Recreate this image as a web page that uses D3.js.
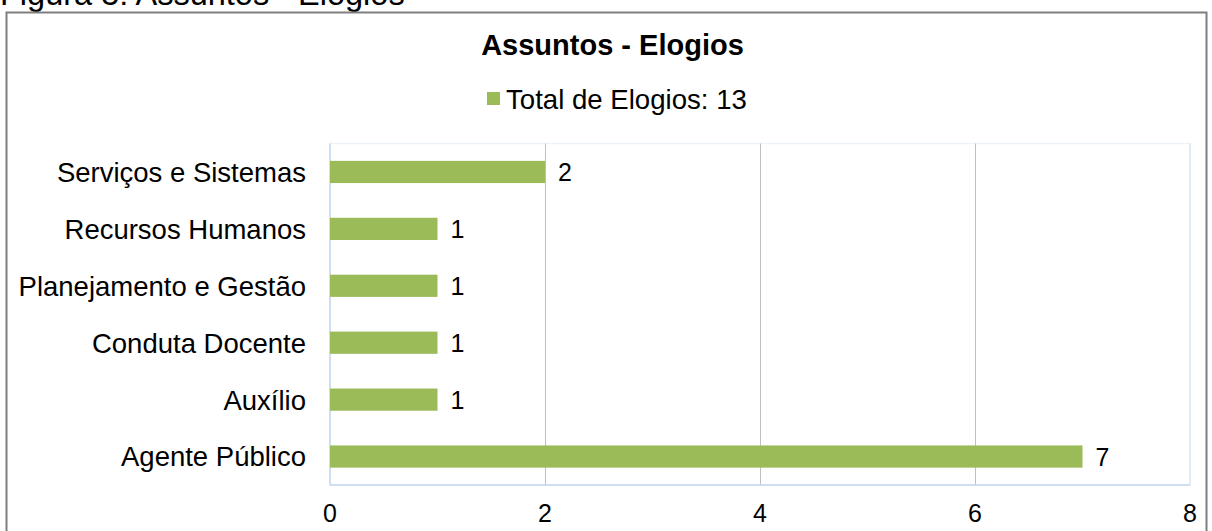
<!DOCTYPE html>
<html><head><meta charset="utf-8">
<script src="https://cdn.jsdelivr.net/npm/d3@7"></script>
<style>
body{margin:0;background:#fff;}
svg{display:block;font-family:"Liberation Sans",Arial,sans-serif;}
</style></head>
<body>
<svg id="c" width="1212" height="531"></svg>
<script>
const categories = ["Serviços e Sistemas","Recursos Humanos","Planejamento e Gestão","Conduta Docente","Auxílio","Agente Público"];
const values = [2,1,1,1,1,7];
const xTicks = [0,2,4,6,8];
const title = "Assuntos - Elogios";
const legendLabel = "Total de Elogios: 13";
const caption = "Figura 5: Assuntos - Elogios";

const svg = d3.select("#c");
const m = {left:330, right:1190, top:143.5, bottom:485};

// caption (clipped at top, as in the reference)
svg.append("text").attr("x",0).attr("y",5).attr("font-size",32.5).attr("fill","#000").text(caption);
// outer frame
svg.append("rect").attr("x",6.5).attr("y",12.5).attr("width",1200).attr("height",530)
  .attr("fill","none").attr("stroke","#7f7f7f").attr("stroke-width",2);

const x = d3.scaleLinear().domain([0,8]).range([m.left,m.right]);
const y = d3.scaleBand().domain(categories).range([m.top,m.bottom]).paddingInner(0.61).paddingOuter(0.305);

// plot border
svg.append("rect").attr("x",m.left).attr("y",m.top).attr("width",m.right-m.left).attr("height",m.bottom-m.top)
  .attr("fill","none").attr("stroke","#eef2f9").attr("stroke-width",1.5);

// gridlines
svg.append("g").selectAll("line").data(xTicks.filter(d=>d>0 && d<8)).join("line")
  .attr("x1",d=>x(d)+0.5).attr("x2",d=>x(d)+0.5).attr("y1",m.top).attr("y2",m.bottom)
  .attr("stroke","#bfbfbf").attr("stroke-width",1);

// axis lines
svg.append("line").attr("x1",m.left).attr("x2",m.left).attr("y1",m.top).attr("y2",m.bottom)
  .attr("stroke","#c5d6ee").attr("stroke-width",1.5);
svg.append("line").attr("x1",m.left).attr("x2",m.right).attr("y1",m.bottom).attr("y2",m.bottom)
  .attr("stroke","#c5d6ee").attr("stroke-width",1.5);
svg.append("line").attr("x1",m.right).attr("x2",m.right).attr("y1",m.top).attr("y2",m.bottom)
  .attr("stroke","#dde6f3").attr("stroke-width",1.5);

// bars
svg.append("g").selectAll("rect").data(values).join("rect")
  .attr("x",x(0)).attr("y",(d,i)=>y(categories[i]))
  .attr("width",d=>x(d)-x(0)).attr("height",y.bandwidth())
  .attr("fill","#9bbb59");

// value labels
svg.append("g").selectAll("text").data(values).join("text")
  .attr("x",d=>x(d)+13).attr("y",(d,i)=>y(categories[i])+y.bandwidth()/2)
  .attr("dy","0.36em").attr("font-size",25).attr("fill","#000").text(d=>d);

// category labels
svg.append("g").selectAll("text").data(categories).join("text")
  .attr("x",306).attr("y",d=>y(d)+y.bandwidth()/2).attr("dy","0.36em")
  .attr("text-anchor","end").attr("font-size",27.5).attr("fill","#000").text(d=>d);

// x tick labels
svg.append("g").selectAll("text").data(xTicks).join("text")
  .attr("x",d=>x(d)).attr("y",513).attr("dy","0.36em").attr("text-anchor","middle")
  .attr("font-size",25).attr("fill","#000").text(d=>d);

// title
svg.append("text").attr("x",612.5).attr("y",45).attr("dy","0.36em").attr("text-anchor","middle")
  .attr("font-size",29).attr("font-weight","bold").attr("fill","#000").text(title);

// legend
svg.append("rect").attr("x",487).attr("y",92).attr("width",13).attr("height",13).attr("fill","#9bbb59");
svg.append("text").attr("x",506).attr("y",99).attr("dy","0.36em").attr("font-size",27.6).attr("fill","#000").text(legendLabel);
</script>
</body></html>
